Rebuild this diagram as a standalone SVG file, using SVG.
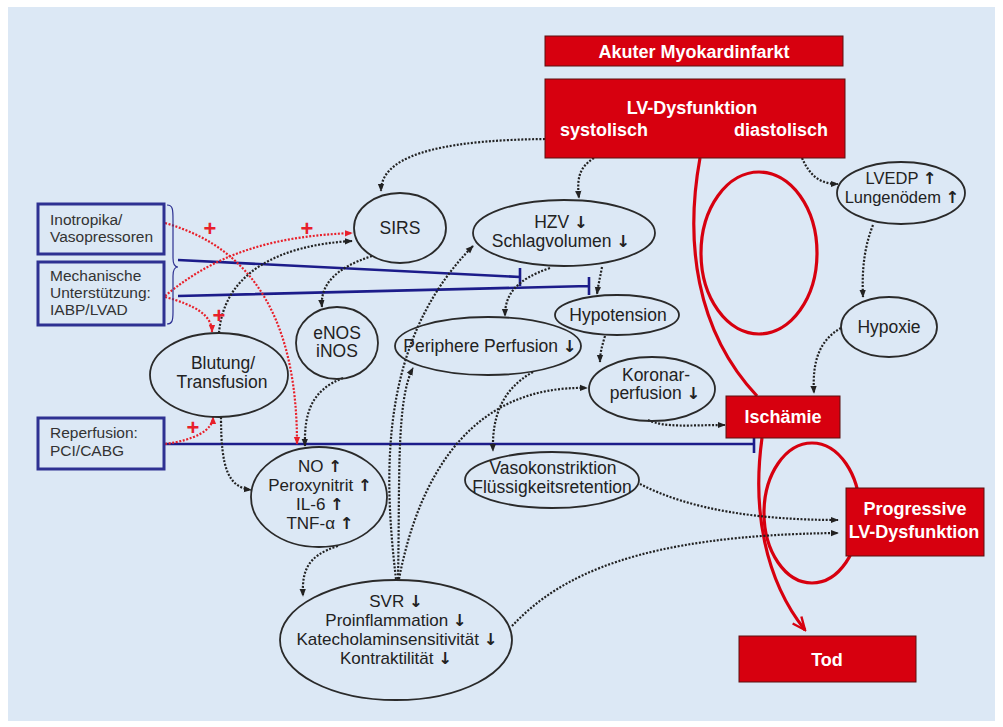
<svg xmlns="http://www.w3.org/2000/svg" width="1003" height="727" viewBox="0 0 1003 727">
<style>
.bg{fill:#dce8f5}
.rb{fill:#d7000f;stroke:#5a1010;stroke-width:1}
.rt{font-family:"Liberation Sans",Arial,sans-serif;font-weight:bold;font-size:18px;fill:#fff;text-anchor:middle}
.el{fill:none;stroke:#2a2a2a;stroke-width:1.8}
.et{font-family:"Liberation Sans",Arial,sans-serif;font-size:17.5px;fill:#222;text-anchor:middle}
.et2{font-family:"Liberation Sans",Arial,sans-serif;font-size:17px;fill:#222;text-anchor:middle}
.ar{font-family:"DejaVu Sans",sans-serif;font-weight:bold;font-size:16.5px;fill:#222}
.bb{fill:none;stroke:#2e3192;stroke-width:3}
.bt{font-family:"Liberation Sans",Arial,sans-serif;font-size:15.5px;fill:#333}
.dot{fill:none;stroke:#222;stroke-width:2.2;stroke-dasharray:2 1.6;marker-end:url(#ab)}
.rdot{fill:none;stroke:#e8202a;stroke-width:2.2;stroke-dasharray:2 1.6;marker-end:url(#ar)}
.inh{fill:none;stroke:#1c1c8a;stroke-width:2.6}
.loop{fill:none;stroke:#d7000f;stroke-width:3.2}
.plus{font-family:"Liberation Sans",Arial,sans-serif;font-weight:bold;font-size:22px;fill:#e8202a;text-anchor:middle}
</style>
<defs>
<marker id="ab" viewBox="0 0 10 10" refX="9" refY="5" markerWidth="8" markerHeight="8" markerUnits="userSpaceOnUse" orient="auto"><path d="M0,1 L10,5 L0,9 z" fill="#222"/></marker>
<marker id="ar" viewBox="0 0 10 10" refX="9" refY="5" markerWidth="8" markerHeight="8" markerUnits="userSpaceOnUse" orient="auto"><path d="M0,1 L10,5 L0,9 z" fill="#e8202a"/></marker>
<marker id="av" viewBox="0 0 20 20" refX="18" refY="10" markerWidth="16" markerHeight="16" markerUnits="userSpaceOnUse" orient="auto"><path d="M2,3 L18,10 L2,17" fill="none" stroke="#d7000f" stroke-width="3"/></marker>
</defs>
<rect class="bg" x="8" y="7" width="987" height="714"/>

<g id="connectors">
<ellipse class="loop" cx="759" cy="253" rx="58" ry="81"/>
<ellipse class="loop" cx="812" cy="513" rx="48" ry="70"/>
<path class="loop" d="M700,158 C685,240 695,330 757,396"/>
<path class="loop" d="M762,438 C752,510 765,580 805,630" marker-end="url(#av)"/>
<path class="inh" d="M178,260 L520,277 M520,268 L520,286"/>
<path class="inh" d="M178,296 L589,286 M589,277 L589,295"/>
<path class="inh" d="M163,444 L754,444 M754,437 L754,453"/>
<path class="rdot" d="M165,223 C260,250 297,330 297,444"/>
<path class="rdot" d="M165,296 C220,250 280,236 352,233"/>
<path class="rdot" d="M165,297 C195,305 212,315 212,332"/>
<path class="rdot" d="M165,444 C195,440 213,430 213,417"/>
<path class="dot" d="M545,139 C460,140 381,150 381,191"/>
<path class="dot" d="M594,158 C578,168 577,180 579,198"/>
<path class="dot" d="M802,158 C810,176 820,184 838,184"/>
<path class="dot" d="M873,225 C863,250 862,275 863,297"/>
<path class="dot" d="M841,328 C820,340 812,360 814,393"/>
<path class="dot" d="M372,256 C335,268 320,285 322,307"/>
<path class="dot" d="M219,333 C224,272 280,245 352,241"/>
<path class="dot" d="M221,417 C221,468 228,487 251,490"/>
<path class="dot" d="M343,378 C312,390 304,412 305,446"/>
<path class="dot" d="M338,546 C306,556 302,572 303,596"/>
<path class="dot" d="M396,579 C383,470 380,340 473,246"/>
<path class="dot" d="M398,579 C400,480 396,400 413,368"/>
<path class="dot" d="M399,579 C420,470 475,385 587,388"/>
<path class="dot" d="M550,268 C515,280 505,295 505,316"/>
<path class="dot" d="M602,267 C600,278 598,286 597,294"/>
<path class="dot" d="M605,336 C602,346 600,353 600,362"/>
<path class="dot" d="M533,372 C500,390 492,420 493,451"/>
<path class="dot" d="M648,420 C665,428 690,425 725,425"/>
<path class="dot" d="M640,484 C690,510 760,520 838,520"/>
<path class="dot" d="M512,626 C560,575 640,535 838,533"/>
<text class="plus" x="210" y="236">+</text>
<text class="plus" x="307" y="236">+</text>
<text class="plus" x="219" y="323">+</text>
<text class="plus" x="193" y="435">+</text>
<path d="M167,205 C173,205 173,210 173,220 L173,258 C173,264 175,267 178,267 C175,267 173,270 173,276 L173,312 C173,321 172,324 167,324" fill="none" stroke="#2e3192" stroke-width="1.2"/>
</g>

<g id="n-ami"><rect class="rb" x="545" y="36" width="298" height="30"/><text class="rt" x="694" y="58">Akuter Myokardinfarkt</text></g>
<g id="n-lvd"><rect class="rb" x="545" y="79" width="300" height="79"/><text class="rt" x="692" y="114">LV-Dysfunktion</text><text class="rt" x="604" y="136">systolisch</text><text class="rt" x="781" y="136">diastolisch</text></g>
<g id="n-isch"><rect class="rb" x="726" y="396" width="114" height="42"/><text class="rt" x="783" y="423">Ischämie</text></g>
<g id="n-prog"><rect class="rb" x="846" y="488" width="138" height="68"/><text class="rt" x="915" y="515">Progressive</text><text class="rt" x="914" y="538">LV-Dysfunktion</text></g>
<g id="n-tod"><rect class="rb" x="739" y="636" width="177" height="46"/><text class="rt" x="827" y="666">Tod</text></g>

<g id="n-ino"><rect class="bb" x="38" y="204" width="126" height="50"/><text class="bt" x="50" y="225">Inotropika/</text><text class="bt" x="50" y="242">Vasopressoren</text></g>
<g id="n-mech"><rect class="bb" x="38" y="262" width="126" height="63"/><text class="bt" x="50" y="281">Mechanische</text><text class="bt" x="50" y="298">Unterstützung:</text><text class="bt" x="50" y="315">IABP/LVAD</text></g>
<g id="n-rep"><rect class="bb" x="38" y="418" width="126" height="51"/><text class="bt" x="50" y="438">Reperfusion:</text><text class="bt" x="50" y="456">PCI/CABG</text></g>

<g id="n-sirs"><ellipse class="el" cx="400" cy="228" rx="46" ry="35"/><text class="et" x="400" y="234">SIRS</text></g>
<g id="n-hzv"><ellipse class="el" cx="564" cy="233" rx="91" ry="33"/><text class="et" x="561" y="228">HZV <tspan class="ar">↓</tspan></text><text class="et" x="561" y="247">Schlagvolumen <tspan class="ar">↓</tspan></text></g>
<g id="n-hypo"><ellipse class="el" cx="617" cy="315" rx="62" ry="20"/><text class="et" x="618" y="321">Hypotension</text></g>
<g id="n-peri"><ellipse class="el" cx="488" cy="346" rx="93" ry="29"/><text class="et" x="490" y="352">Periphere Perfusion <tspan class="ar">↓</tspan></text></g>
<g id="n-kor"><ellipse class="el" cx="652" cy="389" rx="63" ry="32"/><text class="et" x="656" y="381">Koronar-</text><text class="et" x="655" y="399">perfusion <tspan class="ar">↓</tspan></text></g>
<g id="n-lvedp"><ellipse class="el" cx="901" cy="193" rx="64" ry="31"/><text class="et" x="901" y="184" style="font-size:16.5px">LVEDP <tspan class="ar">↑</tspan></text><text class="et" x="902" y="203" style="font-size:16.5px">Lungenödem <tspan class="ar">↑</tspan></text></g>
<g id="n-hypox"><ellipse class="el" cx="889" cy="327" rx="48" ry="30"/><text class="et" x="889" y="333">Hypoxie</text></g>
<g id="n-nos"><ellipse class="el" cx="337" cy="343" rx="41" ry="36"/><text class="et" x="337" y="339">eNOS</text><text class="et" x="337" y="357">iNOS</text></g>
<g id="n-blut"><ellipse class="el" cx="219" cy="375" rx="69" ry="42"/><text class="et" x="223" y="369">Blutung/</text><text class="et" x="222" y="388">Transfusion</text></g>
<g id="n-no"><ellipse class="el" cx="319" cy="497" rx="68" ry="50"/><text class="et2" x="320" y="472">NO <tspan class="ar">↑</tspan></text><text class="et2" x="320" y="491">Peroxynitrit <tspan class="ar">↑</tspan></text><text class="et2" x="320" y="510">IL-6 <tspan class="ar">↑</tspan></text><text class="et2" x="320" y="529">TNF-α <tspan class="ar">↑</tspan></text></g>
<g id="n-vaso"><ellipse class="el" cx="552" cy="480" rx="87" ry="28"/><text class="et" x="553" y="474">Vasokonstriktion</text><text class="et" x="552" y="493">Flüssigkeitsretention</text></g>
<g id="n-svr"><ellipse class="el" cx="396" cy="640" rx="116" ry="60"/><text class="et2" x="396" y="607">SVR <tspan class="ar">↓</tspan></text><text class="et2" x="396" y="626">Proinflammation <tspan class="ar">↓</tspan></text><text class="et2" x="397" y="645">Katecholaminsensitivität <tspan class="ar">↓</tspan></text><text class="et2" x="396" y="664">Kontraktilität <tspan class="ar">↓</tspan></text></g>
</svg>
